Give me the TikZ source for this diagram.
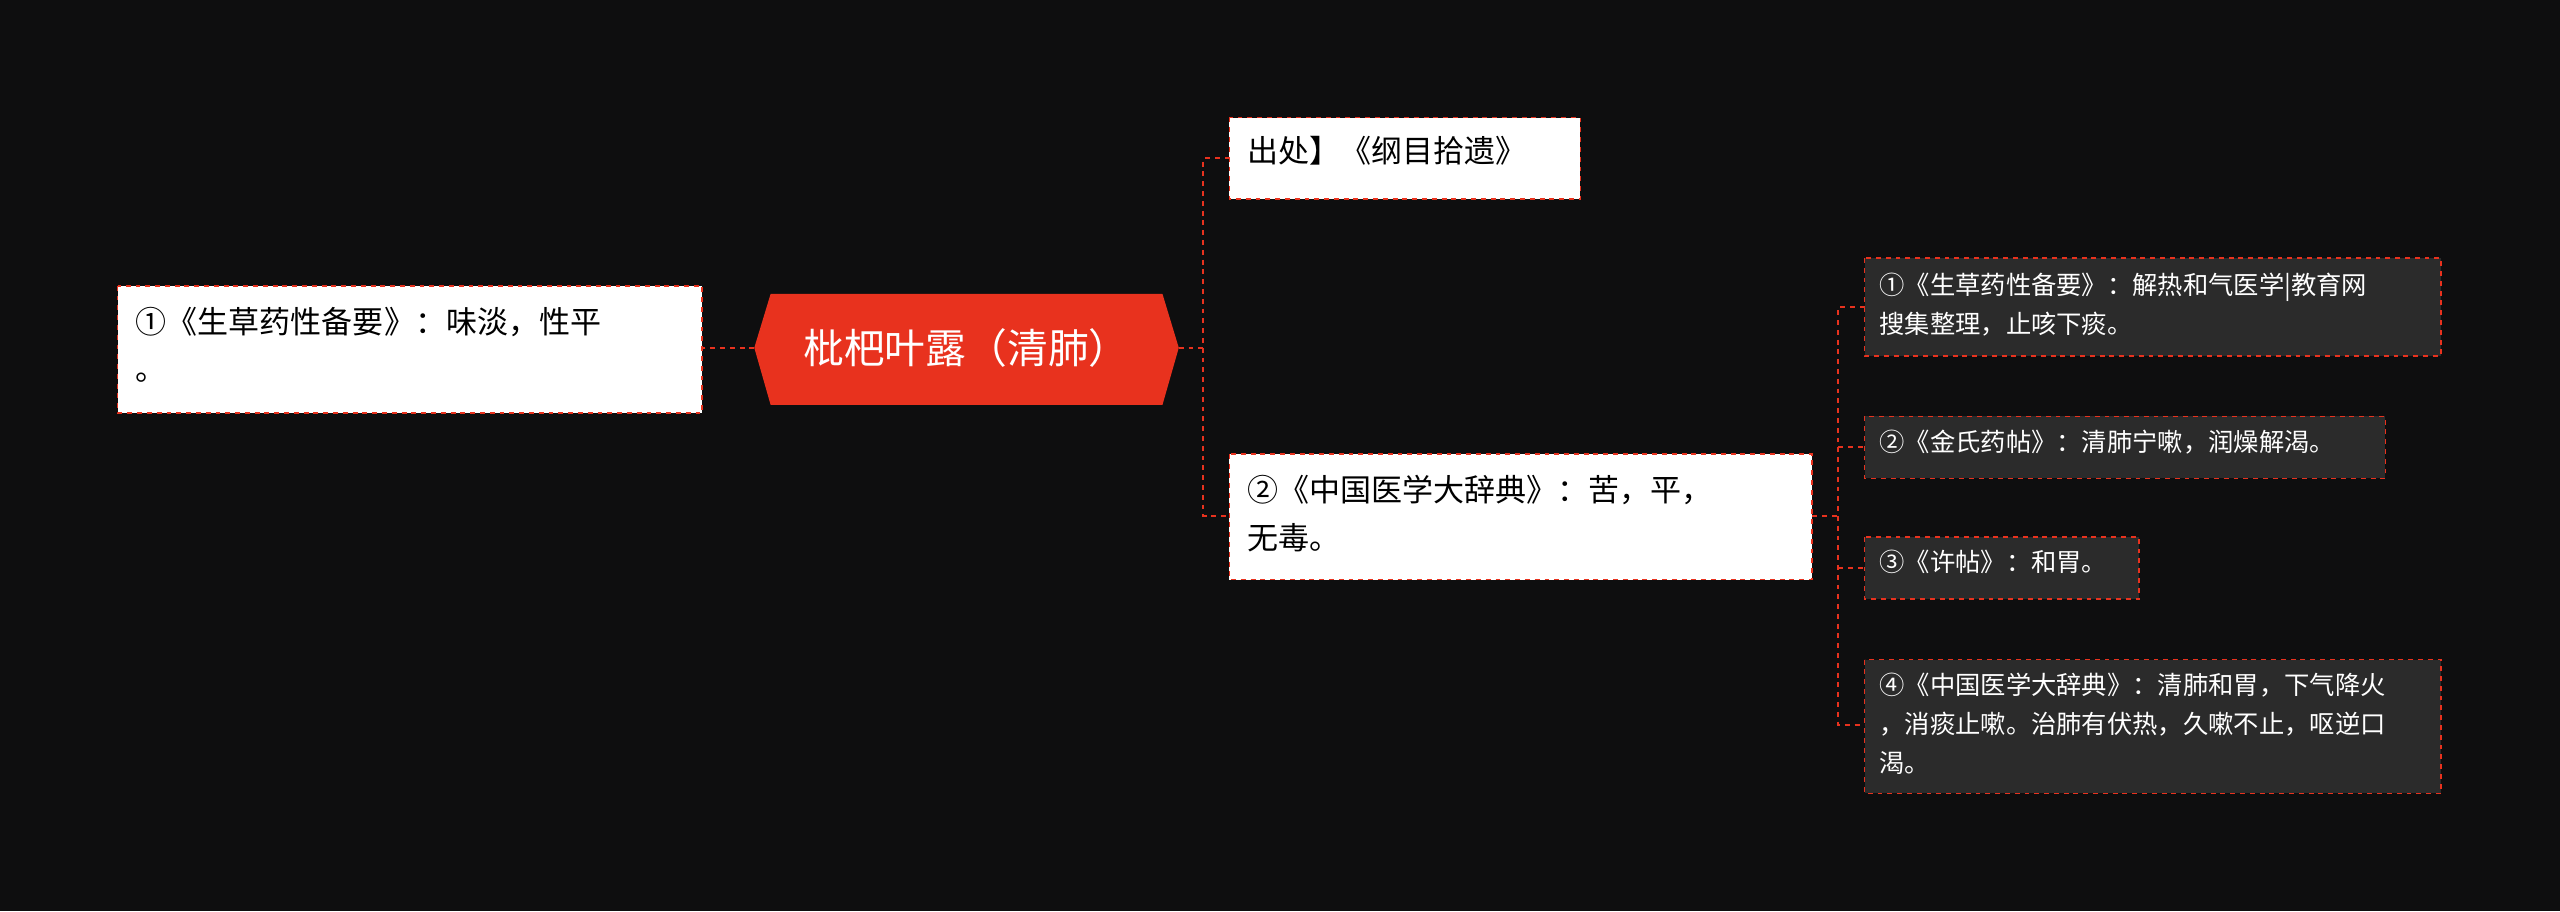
\documentclass[tikz,border=0pt]{standalone}
\usepackage{fontspec}
\setmainfont{Noto Sans CJK SC}
\definecolor{bg}{HTML}{0E0E0F}
\definecolor{rd}{HTML}{E8321E}
\definecolor{dk}{HTML}{2B2B2B}
\begin{document}
\begin{tikzpicture}[x=1pt,y=-1pt,
  wbox/.style={draw=rd,dashed,fill=white,line width=1pt,rectangle,inner sep=0pt},
  dbox/.style={draw=rd,dashed,fill=dk,line width=1pt,rectangle,inner sep=0pt},
  con/.style={draw=rd,dashed,line width=1.3pt},
  wt/.style={anchor=north west,inner sep=0pt,font=\fontsize{19}{29}\selectfont,text=black,align=left},
  dt/.style={anchor=north west,inner sep=0pt,font=\fontsize{15.5}{24}\selectfont,text=white,align=left}]
\useasboundingbox[fill=bg] (0,0) rectangle (1568,558);
% center
\fill[rd] (462,213)--(472,180)--(712,180)--(722,213)--(712,248)--(472,248)--cycle;
\node[inner sep=0pt,text=white,font=\fontsize{25}{30}\selectfont] (c) at (592,213) {枇杷叶露（清肺）};
\coordinate (cl) at (462,213); \coordinate (cr) at (722,213);
% left
\draw[wbox] (72,175) rectangle (430,253);
\node[wt] (l) at (83,188) {①《生草药性备要》：味淡，性平\\。};
\coordinate (lr) at (430,213);
\draw[con] (cl)--(lr);
% right level 1
\draw[wbox] (753,72) rectangle (968,122);
\node[wt] (t) at (764,83) {出处】《纲目拾遗》};
\draw[wbox] (753,278) rectangle (1110,355);
\node[wt] (m) at (764,291) {②《中国医学大辞典》：苦，平，\\无毒。};
\coordinate (tl) at (753,97); \coordinate (ml) at (753,316);
\draw[con] (cr)--(737,213);
\draw[con] (tl)--(737,97)--(737,316)--(ml);
% level 2
\coordinate (mr) at (1110,316);
\draw[con] (mr)--(1126,316);
\draw[dbox] (1142,158) rectangle (1495,218);
\node[dt] (d1) at (1151,167) {①《生草药性备要》：解热和气医学|教育网\\搜集整理，止咳下痰。};
\draw[dbox] (1142,255) rectangle (1461,293);
\node[dt] (d2) at (1151,263) {②《金氏药帖》：清肺宁嗽，润燥解渴。};
\draw[dbox] (1142,329) rectangle (1310,367);
\node[dt] (d3) at (1151,337) {③《许帖》：和胃。};
\draw[dbox] (1142,404) rectangle (1495,486);
\node[dt] (d4) at (1151,412) {④《中国医学大辞典》：清肺和胃，下气降火\\，消痰止嗽。治肺有伏热，久嗽不止，呕逆口\\渴。};
\draw[con] (1142,188)--(1126,188)--(1126,444)--(1142,444);
\draw[con] (1126,274)--(1142,274);
\draw[con] (1126,348)--(1142,348);
\end{tikzpicture}
\end{document}
